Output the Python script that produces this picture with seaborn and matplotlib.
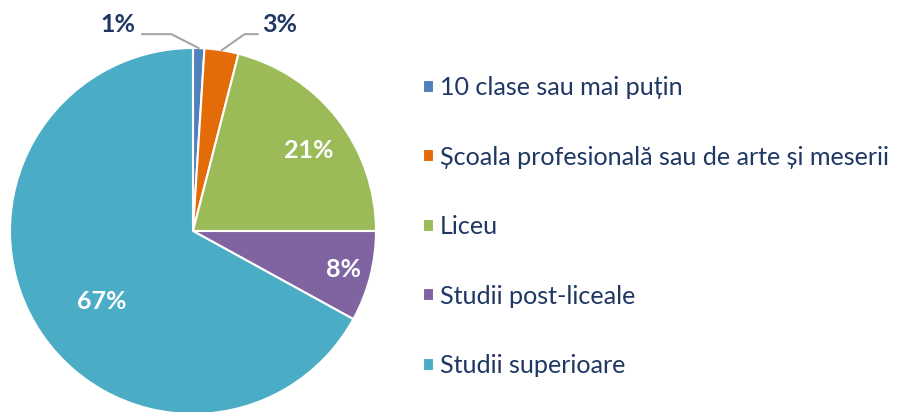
import matplotlib
matplotlib.use("Agg")
import matplotlib.pyplot as plt
import numpy as np
import seaborn as sns

# data
categories = [
    "10 clase sau mai puțin",
    "Școala profesională sau de arte și meserii",
    "Liceu",
    "Studii post-liceale",
    "Studii superioare",
]
shares = [1, 3, 21, 8, 67]
colors = ["#4F81BD", "#E36C09", "#9BBB59", "#8064A2", "#4BACC6"]

sns.set_theme(style="white")
plt.rcParams["font.family"] = ["Lato", "DejaVu Sans"]

navy = "#1F3763"

fig = plt.figure(figsize=(8.99, 4.12), dpi=100)
ax = fig.add_axes([10 / 899, -2 / 412, 366 / 899, 366 / 412])

wedges, _ = ax.pie(
    shares,
    colors=colors,
    startangle=90,
    counterclock=False,
    radius=1,
    wedgeprops=dict(edgecolor="white", linewidth=1.5),
)
ax.set_xlim(-1, 1)
ax.set_ylim(-1, 1)
ax.set_aspect("equal")
ax.axis("off")

# inside labels: (radius, angle shift in degrees) per slice
inside = {2: (0.77, -3), 3: (0.85, 0), 4: (0.63, 7)}
for i, (r, shift) in inside.items():
    w = wedges[i]
    mid = np.deg2rad((w.theta1 + w.theta2) / 2 + shift)
    ax.text(r * np.cos(mid), r * np.sin(mid), f"{shares[i]}%",
            ha="center", va="center", color="white",
            fontsize=18, fontweight="bold")

# outside labels with leader lines
outside = {
    0: dict(xytext=(-0.317, 1.126), ha="right", relpos=(1, 0.1), shrink=5, angleB=153),
    1: dict(xytext=(0.377, 1.126), ha="left", relpos=(0, 0.1), shrink=3, angleB=35),
}
for i, opt in outside.items():
    w = wedges[i]
    mid = np.deg2rad((w.theta1 + w.theta2) / 2)
    ax.annotate(
        f"{shares[i]}%",
        xy=(np.cos(mid), np.sin(mid)),
        xytext=opt["xytext"],
        ha=opt["ha"], va="center",
        color=navy, fontsize=18, fontweight="bold",
        annotation_clip=False,
        arrowprops=dict(arrowstyle="-", color="#A6A6A6", lw=1.5,
                        relpos=opt["relpos"], patchA=None,
                        shrinkA=opt["shrink"], shrinkB=0,
                        connectionstyle=f"angle,angleA=0,angleB={opt['angleB']},rad=0"),
    )

fig.legend(
    wedges, categories,
    loc="upper left",
    bbox_to_anchor=(423 / 899, 0.815),
    frameon=False,
    fontsize=18.1,
    labelcolor=navy,
    handlelength=0.44,
    handleheight=0.44,
    handletextpad=0.22,
    labelspacing=1.85,
    borderpad=0,
    borderaxespad=0,
)

fig.savefig("out.png", dpi=100)
